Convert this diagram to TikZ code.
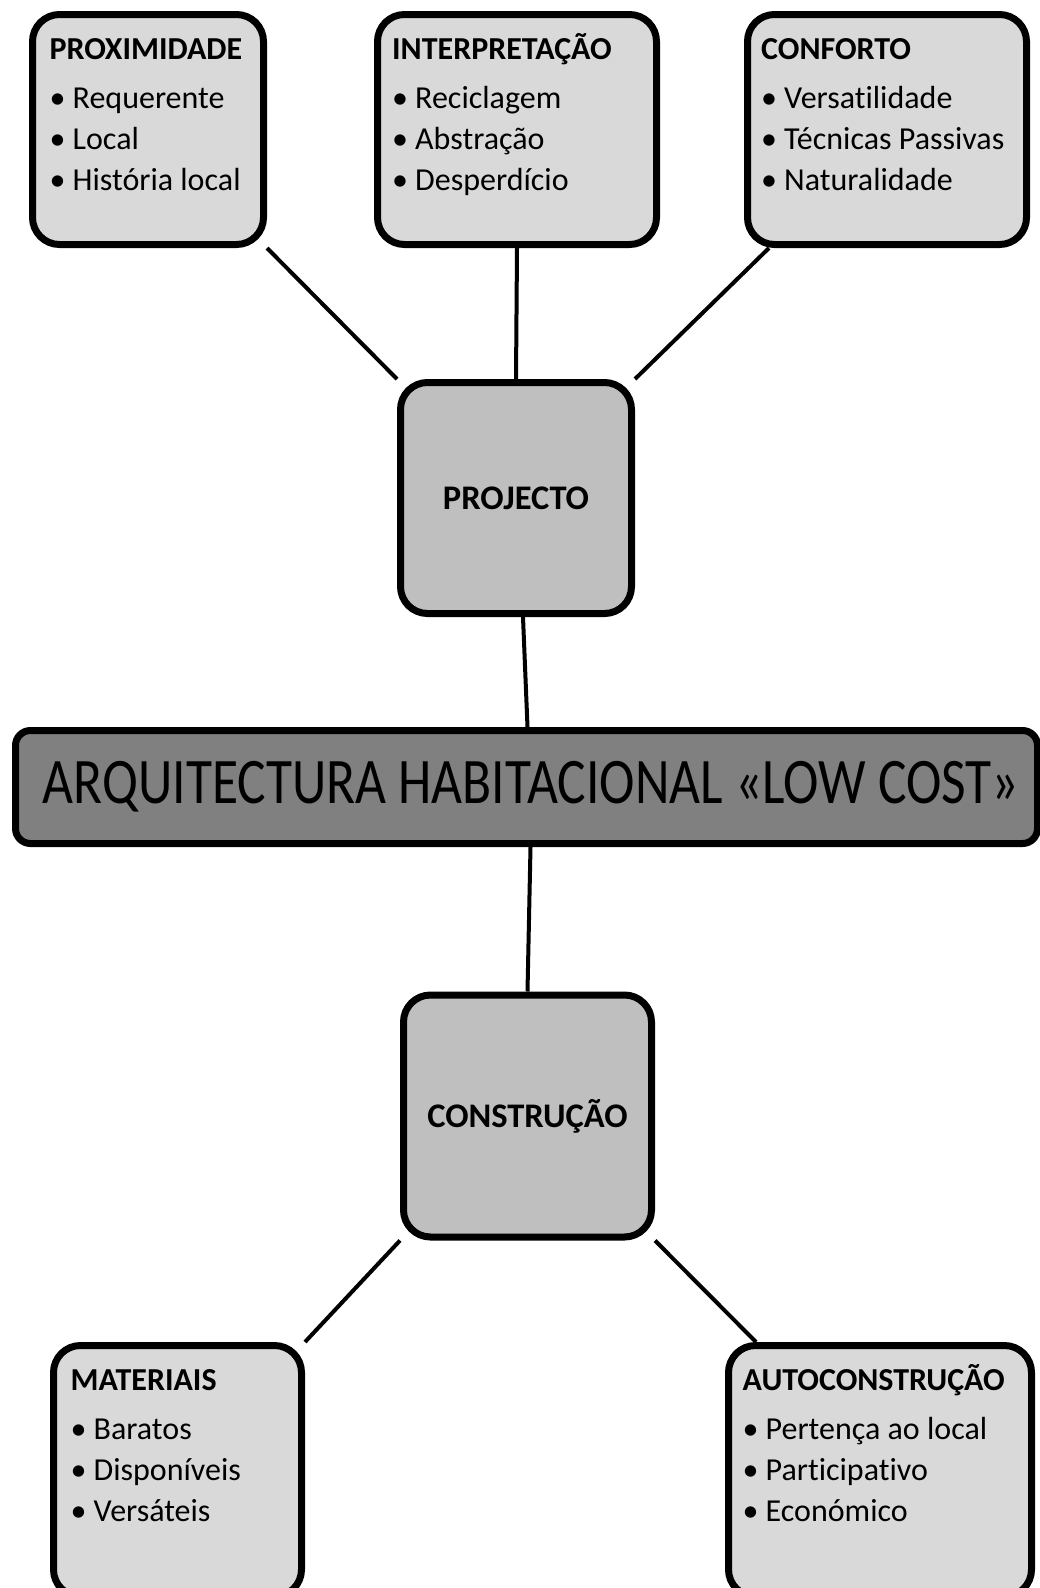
\documentclass[tikz,border=0pt]{standalone}
\usepackage{fontspec}
\setmainfont{Carlito}[Ligatures=NoCommon]
\usepackage{tikz}
\usetikzlibrary{positioning}

\definecolor{lightbox}{HTML}{D9D9D9}
\definecolor{midbox}{HTML}{BFBFBF}
\definecolor{darkbox}{HTML}{808080}
\newcommand{\bul}{\makebox[23pt][l]{•}}

\begin{document}
\begin{tikzpicture}[x=1pt, y=-1pt,
    box/.style={rectangle, rounded corners=27pt, draw, line width=7pt, inner sep=0pt},
    side node/.style={box, fill=lightbox, minimum height=230pt},
    hub node/.style={box, fill=midbox, font=\bfseries\fontsize{34.5}{40}\selectfont},
    main node/.style={box, rounded corners=15pt, fill=darkbox, minimum width=1022pt,
                      minimum height=113pt, font=\fontsize{65}{78}\selectfont},
    list text/.style={inner sep=0pt, anchor=base west, font=\fontsize{32}{41}\selectfont},
    link/.style={line width=4pt}]

  \useasboundingbox (0,0) rectangle (1040,1588);

  \node[side node, minimum width=231pt] (prox) at (148,129.5) {};
  \node[side node, minimum width=279pt] (interp) at (517,129.5) {};
  \node[side node, minimum width=279pt] (conf) at (887,129.5) {};
  \node[hub node, minimum width=231pt, minimum height=231pt] (proj) at (516,498) {PROJECTO};
  \node[main node] (arq) at (526.5,787)
    {\hspace{9pt}\raisebox{-4pt}{\scalebox{0.822}[1]{ARQUITECTURA HABITACIONAL «LOW COST»}}};
  \node[hub node, minimum width=248pt, minimum height=242pt] (constr) at (527.5,1116) {CONSTRUÇÃO};
  \node[side node, minimum width=248pt, minimum height=251pt] (mat) at (177.5,1471) {};
  \node[side node, minimum width=303pt, minimum height=251pt] (auto) at (880,1471) {};

  \node[list text] (prox-txt) at ([shift={(20.5,48.5)}]prox.north west)
    {\begin{tabular}[t]{@{}l@{}}\textbf{PROXIMIDADE}\\[8pt] \bul Requerente\\ \bul Local\\ \bul História local\end{tabular}};
  \node[list text] (interp-txt) at ([shift={(18,48.5)}]interp.north west)
    {\begin{tabular}[t]{@{}l@{}}\textbf{INTERPRETAÇÃO}\\[8pt] \bul Reciclagem\\ \bul Abstração\\ \bul Desperdício\end{tabular}};
  \node[list text] (conf-txt) at ([shift={(17,48.5)}]conf.north west)
    {\begin{tabular}[t]{@{}l@{}}\textbf{CONFORTO}\\[8pt] \bul Versatilidade\\ \bul Técnicas Passivas\\ \bul Naturalidade\end{tabular}};
  \node[list text] (mat-txt) at ([shift={(20.5,48.5)}]mat.north west)
    {\begin{tabular}[t]{@{}l@{}}\textbf{MATERIAIS}\\[8pt] \bul Baratos\\ \bul Disponíveis\\ \bul Versáteis\end{tabular}};
  \node[list text] (auto-txt) at ([shift={(17.5,48.5)}]auto.north west)
    {\begin{tabular}[t]{@{}l@{}}\textbf{AUTOCONSTRUÇÃO}\\[8pt] \bul Pertença ao local\\ \bul Participativo\\ \bul Económico\end{tabular}};

  \path[link]
    (prox.south east) edge (proj.north west)
    (interp.south) edge (proj.north)
    ([xshift=25pt]conf.south west) edge (proj.north east)
    ([xshift=7pt]proj.south) edge ([xshift=1pt]arq.north)
    ([xshift=4pt]arq.south) edge (constr.north)
    (constr.south west) edge (mat.north east)
    (constr.south east) edge ([xshift=31pt]auto.north west);
\end{tikzpicture}
\end{document}
